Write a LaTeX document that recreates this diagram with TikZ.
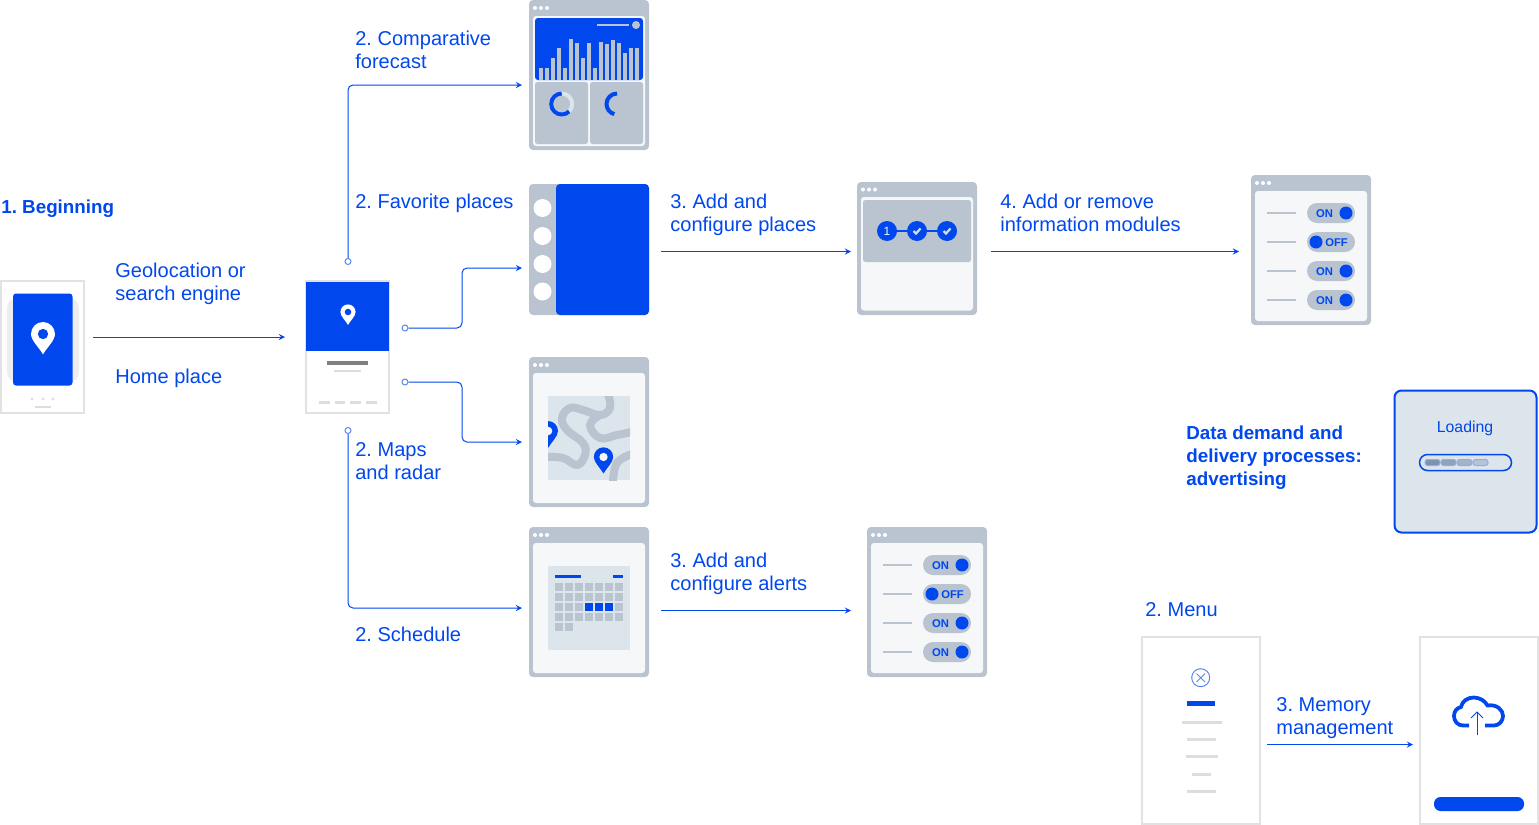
\documentclass[tikz,border=0pt]{standalone}
\usepackage{fontspec}
\setmainfont{Liberation Sans}
\usetikzlibrary{arrows, positioning}
\definecolor{brandblue}{HTML}{0047EE}
\definecolor{slate}{HTML}{B9C4D0}
\definecolor{mist}{HTML}{DDE5EC}
\definecolor{paper}{HTML}{F5F7F9}
\definecolor{rim}{HTML}{E2E2E2}
\definecolor{ashbar}{HTML}{DDDDDD}
\definecolor{barshade}{HTML}{7F92AB}
\tikzset{>=stealth,
    flow/.style={->, brandblue, line width=0.02cm},
    elbow/.style={flow, rounded corners=0.1cm},
    port/.style={circle, draw=brandblue!65, fill=white, line width=0.02cm, inner sep=0, minimum size=0.12cm},
    winbody/.style={fill=slate, rounded corners=0.08cm, inner sep=0, outer sep=0},
    phone/.style={draw=rim, fill=white, line width=0.04cm, inner sep=0, outer sep=0},
    caption/.style={anchor=west, align=left, inner sep=0, text=brandblue, font=\fontsize{11.4}{13.04}\selectfont, execute at begin node=\strut, execute at end node=\strut},
    boldcaption/.style={caption, font=\fontsize{10.7}{13.04}\selectfont\bfseries},
    togglefont/.style={inner sep=0, text=brandblue, font=\fontsize{6.4}{7}\selectfont\bfseries}
}
\newcommand{\winframe}[5]{
    \node[winbody, minimum width=#4*0.02cm, minimum height=#5*0.02cm] (#1) at ({#2+#4/2},{#3+#5/2}) {};
    \foreach \d in {6,12,18}
    {
        \fill[white] ({#2+\d},{#3+8}) circle (2);
    }
    \fill[paper, rounded corners=0.06cm] ({#2+4},{#3+16}) rectangle ({#2+#4-4},{#3+#5-4});
}
\newcommand{\togglewin}[3]{
    \winframe{#1}{#2}{#3}{120}{150}
    \foreach \r/\state/\knob/\tx in {38/ON/95/73.5, 67/OFF/65/85.5, 96/ON/95/73.5, 125/ON/95/73.5}
    {
        \fill[slate] ({#2+16},{#3+\r-1.3}) rectangle ({#2+45},{#3+\r+1.3});
        \fill[slate, rounded corners=0.2cm] ({#2+56},{#3+\r-10}) rectangle ({#2+104},{#3+\r+10});
        \fill[brandblue] ({#2+\knob},{#3+\r}) circle (6.5);
        \node[togglefont] (#1-\r) at ({#2+\tx},{#3+\r+0.7}) {\state};
    }
}
\newcommand{\pinmark}[5]{
    \begin{scope}[shift={(#1,#2)}, x=#3*0.02cm, y=-#3*0.02cm]
        \fill[#4] (0,1.7) .. controls (-0.3,1.15) and (-1,0.55) .. (-1,0) .. controls (-1,-0.55) and (-0.55,-1) .. (0,-1)
            .. controls (0.55,-1) and (1,-0.55) .. (1,0) .. controls (1,0.55) and (0.3,1.15) .. (0,1.7) -- cycle;
        \fill[#5] (0,0) circle (0.43);
    \end{scope}
}
\begin{document}
\frenchspacing
\begin{tikzpicture}[x=0.02cm, y=-0.02cm]
    \useasboundingbox (0,0) rectangle (1539,825);
    % left phones
    \node[phone, minimum width=83*0.02cm, minimum height=132*0.02cm] (start) at (42.5,347) {};
    \fill[black!7, rounded corners=0.2cm] (7,298) rectangle (79,382);
    \fill[brandblue, rounded corners=0.06cm] (13,293.5) rectangle (72.5,385.5);
    \pinmark{43}{334}{12}{white}{brandblue}
    \foreach \x in {32,43,53}
    {
        \fill[ashbar] (\x,399) circle (1.6);
    }
    \fill[ashbar] (35,406) rectangle (51,408);
    \node[phone, minimum width=83*0.02cm, minimum height=132*0.02cm] (hub) at (347.5,347) {};
    \fill[brandblue] (306,282) rectangle (389,351);
    \pinmark{348}{312}{7.6}{white}{brandblue}
    \fill[black!50] (327,361) rectangle (368,364.5);
    \fill[ashbar] (334,369.5) rectangle (361,372);
    \foreach \x in {319,334.5,350,366}
    {
        \fill[ashbar] (\x,401) rectangle ++(10.5,2.5);
    }
    % forecast
    \winframe{forecast}{529}{0}{120}{150}
    \fill[brandblue, rounded corners=0.06cm] (535,18) rectangle (643,80);
    \foreach \barx/\bary in {539/68,545/68,551/58,557/48,563/68,569/39,575/43,581/58,587/43,593/68,599/42,605/44,611/40,617/43,623/53,629/48,635/48}
    {
        \fill[slate] (\barx,\bary) rectangle ++(4,80-\bary);
    }
    \fill[slate] (597,24.2) rectangle (629,25.8);
    \fill[slate] (636,25) circle (4);
    \fill[slate, rounded corners=0.05cm] (535,82) rectangle (588,144);
    \fill[slate, rounded corners=0.05cm] (590,82) rectangle (643,144);
    \draw[mist, line width=0.08cm] (561.7,104) circle (10.5);
    \draw[brandblue, line width=0.08cm] (561.7,93.5) arc[start angle=270, end angle=45, radius=10.5];
    \draw[brandblue, line width=0.08cm] (617,93.5) arc[start angle=270, end angle=105, radius=10.5];
    % favorites
    \node[winbody, minimum width=120*0.02cm, minimum height=131*0.02cm] (favorites) at (589,249.5) {};
    \fill[brandblue, rounded corners=0.08cm] (556,184) rectangle (649,315);
    \foreach \y in {208,236,264,291.5}
    {
        \fill[white] (542.5,\y) circle (9);
    }
    % places
    \node[winbody, minimum width=120*0.02cm, minimum height=133*0.02cm] (places) at (917,248.5) {};
    \foreach \x in {863,869,875}
    {
        \fill[white] (\x,189.5) circle (2);
    }
    \fill[paper, rounded corners=0.06cm] (861,197) rectangle (973,310.5);
    \fill[slate, rounded corners=0.05cm] (863,200) rectangle (971,262);
    \draw[brandblue, line width=0.03cm] (887,231) -- (947,231);
    \foreach \x in {887,917,947}
    {
        \fill[brandblue] (\x,231) circle (10);
    }
    \node[inner sep=0, text=paper, font=\fontsize{6.8}{7}\selectfont] (stepone) at (887,231) {1};
    \foreach \x in {917,947}
    {
        \draw[slate!60!white, line width=0.045cm] (\x-3.5,231) -- (\x-1,233.5) -- (\x+3.5,228.5);
    }
    % modules and alerts
    \togglewin{modules}{1251}{175}
    \togglewin{alerts}{867}{527}
    % map
    \winframe{maps}{529}{357}{120}{150}
    \begin{scope}
        \clip (548,396) rectangle (630,480);
        \fill[mist] (548,396) rectangle (630,480);
        \draw[slate, line width=0.16cm] plot[smooth, tension=0.7] coordinates {(546,457) (563,458) (577,465) (585,455) (583,443) (567,430) (562,418) (570,408) (583,410) (600,415) (610,408) (608,394)};
        \draw[slate, line width=0.16cm] plot[smooth, tension=0.7] coordinates {(600,415) (590,425) (600,438) (617,435) (632,432)};
        \draw[slate, line width=0.16cm] plot[smooth, tension=0.7] coordinates {(632,454) (617,463) (613,482)};
        \pinmark{548}{431}{10}{brandblue}{paper}
    \end{scope}
    \pinmark{603.5}{457}{9.7}{brandblue}{paper}
    % calendar
    \winframe{schedule}{529}{527}{120}{150}
    \fill[mist] (548,566) rectangle (630,650);
    \fill[brandblue] (555,575) rectangle (581,578);
    \fill[brandblue] (613,575) rectangle (623,578);
    \foreach \col in {0,...,6}
    {
        \foreach \row in {0,...,3}
        {
            \fill[slate] (555+\col*10,583+\row*10) rectangle ++(8,8);
        }
    }
    \foreach \col in {3,4,5}
    {
        \fill[brandblue] (555+\col*10,603) rectangle ++(8,8);
    }
    \foreach \col in {0,1}
    {
        \fill[slate] (555+\col*10,623) rectangle ++(8,8);
    }
    % loading
    \node[fill=mist, draw=brandblue, line width=0.04cm, rounded corners=0.14cm, inner sep=0, minimum width=142*0.02cm, minimum height=142*0.02cm] (loadbox) at (1465.5,461.5) {};
    \node[inner sep=0, text=brandblue, font=\fontsize{9}{11}\selectfont] (loadtext) at (1465,428.5) {Loading};
    \draw[brandblue, fill=mist, line width=0.03cm, rounded corners=0.16cm] (1419.5,454.5) rectangle (1511.5,470.5);
    \foreach \x/\shade in {1425/100,1441/80,1457/60,1473/40}
    {
        \draw[brandblue!45, fill=barshade!\shade!mist, line width=0.02cm, rounded corners=0.05cm] (\x,459.5) rectangle ++(15,6);
    }
    % menu
    \node[phone, minimum width=118*0.02cm, minimum height=187*0.02cm] (menu) at (1201,730.5) {};
    \draw[brandblue!65, line width=0.02cm] (1200.7,677.7) circle (9);
    \draw[brandblue!65, line width=0.02cm] (1196.5,673.5) -- (1205,682) (1205,673.5) -- (1196.5,682);
    \fill[brandblue] (1187,701) rectangle (1215,706);
    \foreach \xa/\xb/\y in {1181.5/1222/720.5,1187/1216/738,1185.5/1217.5/755,1192/1211/772.5,1187/1216/790}
    {
        \fill[ashbar] (\xa,\y) rectangle (\xb,\y+3);
    }
    % memory
    \node[phone, minimum width=118*0.02cm, minimum height=187*0.02cm] (memory) at (1479,730.5) {};
    \draw[brandblue, line width=0.075cm] (1469,725.5) -- (1463,725.5) .. controls (1457.5,725.5) and (1454,721) .. (1454,716) .. controls (1454,711) and (1457,708) .. (1461,707) .. controls (1462,701) and (1468,697.5) .. (1473.5,697.5) .. controls (1480,697.5) and (1485,701) .. (1487.5,705.5) .. controls (1497,704) and (1503,710) .. (1503,716) .. controls (1503,721) and (1499,725.5) .. (1494,725.5) -- (1485,725.5);
    \draw[brandblue, line width=0.02cm] (1477,735) -- (1477,712);
    \draw[brandblue, line width=0.02cm] (1471,718) -- (1477,712) -- (1483,718);
    \fill[brandblue, rounded corners=0.13cm] (1434,797) rectangle (1524,811);
    % connectors
    \node[port] (portup) at (348,261.5) {};
    \node[port] (portfav) at (405,328) {};
    \node[port] (portmap) at (405,382) {};
    \node[port] (portdown) at (348,430.5) {};
    \coordinate (inforecast) at (522,85);
    \coordinate (infav) at (522,268);
    \coordinate (inmap) at (522,442);
    \coordinate (insched) at (522,608);
    \draw[elbow] (portup) |- (inforecast);
    \draw[elbow] (portfav) -- ++(57,0) |- (infav);
    \draw[elbow] (portmap) -- ++(57,0) |- (inmap);
    \draw[elbow] (portdown) |- (insched);
    \coordinate (outstart) at (93,337);
    \coordinate (inhub) at (285,337);
    \coordinate (outfav) at (661,251.5);
    \coordinate (inplaces) at (851,251.5);
    \coordinate (outplaces) at (991,251.5);
    \coordinate (inmodules) at (1239,251.5);
    \coordinate (outsched) at (661,610.5);
    \coordinate (inalerts) at (851,610.5);
    \coordinate (outmenu) at (1267,744.5);
    \coordinate (inmemory) at (1413,744.5);
    \draw[flow] (outstart) -- (inhub);
    \draw[flow] (outfav) -- (inplaces);
    \draw[flow] (outplaces) -- (inmodules);
    \draw[flow] (outsched) -- (inalerts);
    \draw[flow] (outmenu) -- (inmemory);
    % labels
    \node[boldcaption] (beginning) at (1,209) {1. Beginning};
    \node[caption] (geo) at (115,285.5) {Geolocation or\\search engine};
    \node[caption] (home) at (115,379) {Home place};
    \node[caption] (compare) at (355,53.5) {2. Comparative\\forecast};
    \node[caption] (favtext) at (355,204) {2. Favorite places};
    \node[caption] (maptext) at (355,464.5) {2. Maps\\and radar};
    \node[caption] (schedtext) at (355,637) {2. Schedule};
    \node[caption] (addplaces) at (670,216.5) {3. Add and\\configure places};
    \node[caption] (addmodules) at (1000,216.5) {4. Add or remove\\information modules};
    \node[caption] (addalerts) at (670,575.5) {3. Add and\\configure alerts};
    \node[boldcaption] (demand) at (1186,459) {Data demand and\\delivery processes:\\advertising};
    \node[caption] (menutext) at (1145,612) {2. Menu};
    \node[caption] (memtext) at (1276,719.5) {3. Memory\\management};
\end{tikzpicture}
\end{document}
